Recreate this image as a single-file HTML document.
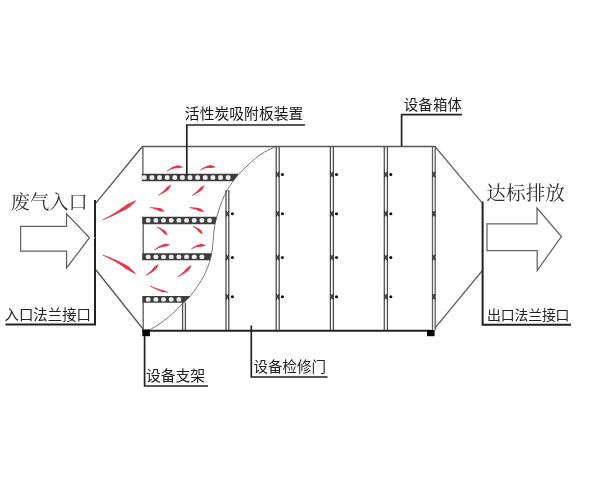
<!DOCTYPE html>
<html lang="zh"><head><meta charset="utf-8"><title>活性炭吸附装置</title>
<style>
html,body{margin:0;padding:0;background:#fff;font-family:"Liberation Sans",sans-serif;}
svg{display:block;position:absolute;left:0;top:0;}
text{font-family:"Liberation Sans","Noto Sans CJK SC",sans-serif;}
</style></head><body>
<svg width="600" height="488" viewBox="0 0 600 488">
<rect width="600" height="488" fill="#fff"/>
<defs><filter id="soft" x="0" y="0" width="600" height="488" filterUnits="userSpaceOnUse"><feGaussianBlur stdDeviation="0.5"/></filter></defs>
<g filter="url(#soft)">
<line x1="142" y1="146.5" x2="435.5" y2="146.5" stroke="#585858" stroke-width="1.5" stroke-linecap="butt"/>
<line x1="142" y1="330.7" x2="431" y2="330.7" stroke="#222" stroke-width="2.0" stroke-linecap="butt"/>
<line x1="142.4" y1="146.5" x2="95.8" y2="203.1" stroke="#555" stroke-width="1.3" stroke-linecap="butt"/>
<line x1="96" y1="270" x2="143.4" y2="329.5" stroke="#555" stroke-width="1.3" stroke-linecap="butt"/>
<line x1="435" y1="146.5" x2="481.7" y2="202.4" stroke="#666" stroke-width="1.3" stroke-linecap="butt"/>
<line x1="482" y1="271" x2="435" y2="328" stroke="#666" stroke-width="1.3" stroke-linecap="butt"/>
<path d="M95 200 L95 324.6 L5.5 324.6" fill="none" stroke="#222" stroke-width="2.0" stroke-linejoin="miter"/>
<path d="M93.6 236.2 L94.9 237.8 L93.6 239.4 Z" fill="#fff"/>
<path d="M482.6 201.5 L482.6 324.7 L571 324.7" fill="none" stroke="#222" stroke-width="2.0" stroke-linejoin="miter"/>
<line x1="142.9" y1="146.5" x2="142.9" y2="174" stroke="#666" stroke-width="1.4" stroke-linecap="butt"/>
<line x1="143.2" y1="217" x2="143.2" y2="260" stroke="#666" stroke-width="1.4" stroke-linecap="butt"/>
<line x1="143.2" y1="302" x2="143.2" y2="330" stroke="#666" stroke-width="1.4" stroke-linecap="butt"/>
<path d="M274.7 147 C273.02 147.83 267.82 150.08 264.6 152 C261.38 153.92 258.48 156.03 255.4 158.5 C252.32 160.97 248.88 164.2 246.1 166.8 C243.32 169.4 241 171.5 238.7 174.1 C236.4 176.7 234.28 179.63 232.3 182.4 C230.32 185.17 228.5 187.62 226.8 190.7 C225.1 193.78 223.48 197.52 222.1 200.9 C220.72 204.28 219.57 207.62 218.5 211 C217.43 214.38 216.45 218.03 215.7 221.2 C214.95 224.37 214.4 227 214 230 C213.6 233 213.68 235.32 213.3 239.2 C212.92 243.08 212.37 249.38 211.7 253.3 C211.03 257.22 210.48 259.17 209.3 262.7 C208.12 266.23 206.57 270.57 204.6 274.5 C202.63 278.43 199.87 282.75 197.5 286.3 C195.13 289.85 192.95 292.85 190.4 295.8 C187.85 298.75 185.15 301.07 182.2 304 C179.25 306.93 176.23 310.25 172.7 313.4 C169.17 316.55 164.92 320.13 161 322.9 C157.08 325.67 152.03 328.6 149.2 330 C146.37 331.4 144.87 331.08 144 331.3" fill="none" stroke="#777" stroke-width="1.0"/>
<path d="M141.8 173.8 L238.9 173.8 L233.2 181.2 L141.8 181.2 Z" fill="#3e3e3e"/>
<rect x="141.95" y="175.35" width="4.7" height="4.3" rx="1.5" fill="#efefef"/><rect x="149.57" y="175.35" width="4.7" height="4.3" rx="1.5" fill="#efefef"/><rect x="157.19" y="175.35" width="4.7" height="4.3" rx="1.5" fill="#efefef"/><rect x="164.81" y="175.35" width="4.7" height="4.3" rx="1.5" fill="#efefef"/><rect x="172.43" y="175.35" width="4.7" height="4.3" rx="1.5" fill="#efefef"/><rect x="180.05" y="175.35" width="4.7" height="4.3" rx="1.5" fill="#efefef"/><rect x="187.67" y="175.35" width="4.7" height="4.3" rx="1.5" fill="#efefef"/><rect x="195.29" y="175.35" width="4.7" height="4.3" rx="1.5" fill="#efefef"/><rect x="202.91" y="175.35" width="4.7" height="4.3" rx="1.5" fill="#efefef"/><rect x="210.53" y="175.35" width="4.7" height="4.3" rx="1.5" fill="#efefef"/><rect x="218.15" y="175.35" width="4.7" height="4.3" rx="1.5" fill="#efefef"/><rect x="225.77" y="175.35" width="4.7" height="4.3" rx="1.5" fill="#efefef"/>
<path d="M142.3 216.7 L216.9 216.7 L215 224.2 L142.3 224.2 Z" fill="#3e3e3e"/>
<rect x="145.85" y="218.3" width="4.7" height="4.3" rx="1.5" fill="#efefef"/><rect x="153.52" y="218.3" width="4.7" height="4.3" rx="1.5" fill="#efefef"/><rect x="161.19" y="218.3" width="4.7" height="4.3" rx="1.5" fill="#efefef"/><rect x="168.86" y="218.3" width="4.7" height="4.3" rx="1.5" fill="#efefef"/><rect x="176.53" y="218.3" width="4.7" height="4.3" rx="1.5" fill="#efefef"/><rect x="184.2" y="218.3" width="4.7" height="4.3" rx="1.5" fill="#efefef"/><rect x="191.87" y="218.3" width="4.7" height="4.3" rx="1.5" fill="#efefef"/><rect x="199.54" y="218.3" width="4.7" height="4.3" rx="1.5" fill="#efefef"/><rect x="207.21" y="218.3" width="4.7" height="4.3" rx="1.5" fill="#efefef"/>
<path d="M142.3 253.3 L211.7 253.3 L210 260.3 L142.3 260.3 Z" fill="#3e3e3e"/>
<rect x="145.85" y="254.65" width="4.7" height="4.3" rx="1.5" fill="#efefef"/><rect x="153.52" y="254.65" width="4.7" height="4.3" rx="1.5" fill="#efefef"/><rect x="161.19" y="254.65" width="4.7" height="4.3" rx="1.5" fill="#efefef"/><rect x="168.86" y="254.65" width="4.7" height="4.3" rx="1.5" fill="#efefef"/><rect x="176.53" y="254.65" width="4.7" height="4.3" rx="1.5" fill="#efefef"/><rect x="184.2" y="254.65" width="4.7" height="4.3" rx="1.5" fill="#efefef"/><rect x="191.87" y="254.65" width="4.7" height="4.3" rx="1.5" fill="#efefef"/><rect x="199.54" y="254.65" width="4.7" height="4.3" rx="1.5" fill="#efefef"/>
<path d="M142.3 296 L190.6 296 L184 302.7 L142.3 302.7 Z" fill="#3e3e3e"/>
<rect x="145.85" y="297.2" width="4.7" height="4.3" rx="1.5" fill="#efefef"/><rect x="153.52" y="297.2" width="4.7" height="4.3" rx="1.5" fill="#efefef"/><rect x="161.19" y="297.2" width="4.7" height="4.3" rx="1.5" fill="#efefef"/><rect x="168.86" y="297.2" width="4.7" height="4.3" rx="1.5" fill="#efefef"/><rect x="176.53" y="297.2" width="4.7" height="4.3" rx="1.5" fill="#efefef"/>
<line x1="182.6" y1="302.6" x2="182.6" y2="330" stroke="#505050" stroke-width="1.3" stroke-linecap="butt"/>
<line x1="185.4" y1="302.6" x2="185.4" y2="330" stroke="#505050" stroke-width="1.3" stroke-linecap="butt"/>
<line x1="226" y1="190" x2="226" y2="330" stroke="#505050" stroke-width="1.3" stroke-linecap="butt"/>
<line x1="228.8" y1="190" x2="228.8" y2="330" stroke="#505050" stroke-width="1.3" stroke-linecap="butt"/>
<path d="M226 210.9 L228.8 216.5 M228.8 210.9 L226 216.5" stroke="#222" stroke-width="1.1" fill="none"/>
<rect x="226" y="212.2" width="2.8" height="3" fill="#444"/>
<circle cx="232.4" cy="213.7" r="1.55" fill="#111"/>
<path d="M226 254.7 L228.8 260.3 M228.8 254.7 L226 260.3" stroke="#222" stroke-width="1.1" fill="none"/>
<rect x="226" y="256" width="2.8" height="3" fill="#444"/>
<circle cx="232.4" cy="257.5" r="1.55" fill="#111"/>
<path d="M226 293.9 L228.8 299.5 M228.8 293.9 L226 299.5" stroke="#222" stroke-width="1.1" fill="none"/>
<rect x="226" y="295.2" width="2.8" height="3" fill="#444"/>
<circle cx="232.4" cy="296.7" r="1.55" fill="#111"/>
<line x1="276.2" y1="146.5" x2="276.2" y2="330" stroke="#505050" stroke-width="1.3" stroke-linecap="butt"/>
<line x1="279.2" y1="146.5" x2="279.2" y2="330" stroke="#505050" stroke-width="1.3" stroke-linecap="butt"/>
<path d="M276.2 171.7 L279.2 177.3 M279.2 171.7 L276.2 177.3" stroke="#222" stroke-width="1.1" fill="none"/>
<rect x="276.2" y="173" width="3" height="3" fill="#444"/>
<circle cx="282.4" cy="174.5" r="1.55" fill="#111"/>
<path d="M276.2 210.9 L279.2 216.5 M279.2 210.9 L276.2 216.5" stroke="#222" stroke-width="1.1" fill="none"/>
<rect x="276.2" y="212.2" width="3" height="3" fill="#444"/>
<circle cx="282.4" cy="213.7" r="1.55" fill="#111"/>
<path d="M276.2 254.7 L279.2 260.3 M279.2 254.7 L276.2 260.3" stroke="#222" stroke-width="1.1" fill="none"/>
<rect x="276.2" y="256" width="3" height="3" fill="#444"/>
<circle cx="282.4" cy="257.5" r="1.55" fill="#111"/>
<path d="M276.2 293.9 L279.2 299.5 M279.2 293.9 L276.2 299.5" stroke="#222" stroke-width="1.1" fill="none"/>
<rect x="276.2" y="295.2" width="3" height="3" fill="#444"/>
<circle cx="282.4" cy="296.7" r="1.55" fill="#111"/>
<line x1="330.4" y1="146.5" x2="330.4" y2="330" stroke="#505050" stroke-width="1.3" stroke-linecap="butt"/>
<line x1="333.4" y1="146.5" x2="333.4" y2="330" stroke="#505050" stroke-width="1.3" stroke-linecap="butt"/>
<path d="M330.4 171.7 L333.4 177.3 M333.4 171.7 L330.4 177.3" stroke="#222" stroke-width="1.1" fill="none"/>
<rect x="330.4" y="173" width="3" height="3" fill="#444"/>
<circle cx="336.5" cy="174.5" r="1.55" fill="#111"/>
<path d="M330.4 210.9 L333.4 216.5 M333.4 210.9 L330.4 216.5" stroke="#222" stroke-width="1.1" fill="none"/>
<rect x="330.4" y="212.2" width="3" height="3" fill="#444"/>
<circle cx="336.5" cy="213.7" r="1.55" fill="#111"/>
<path d="M330.4 254.7 L333.4 260.3 M333.4 254.7 L330.4 260.3" stroke="#222" stroke-width="1.1" fill="none"/>
<rect x="330.4" y="256" width="3" height="3" fill="#444"/>
<circle cx="336.5" cy="257.5" r="1.55" fill="#111"/>
<path d="M330.4 293.9 L333.4 299.5 M333.4 293.9 L330.4 299.5" stroke="#222" stroke-width="1.1" fill="none"/>
<rect x="330.4" y="295.2" width="3" height="3" fill="#444"/>
<circle cx="336.5" cy="296.7" r="1.55" fill="#111"/>
<line x1="384.3" y1="146.5" x2="384.3" y2="330" stroke="#505050" stroke-width="1.3" stroke-linecap="butt"/>
<line x1="387.4" y1="146.5" x2="387.4" y2="330" stroke="#505050" stroke-width="1.3" stroke-linecap="butt"/>
<path d="M384.3 171.7 L387.4 177.3 M387.4 171.7 L384.3 177.3" stroke="#222" stroke-width="1.1" fill="none"/>
<rect x="384.3" y="173" width="3.1" height="3" fill="#444"/>
<circle cx="390.8" cy="174.5" r="1.55" fill="#111"/>
<path d="M384.3 210.9 L387.4 216.5 M387.4 210.9 L384.3 216.5" stroke="#222" stroke-width="1.1" fill="none"/>
<rect x="384.3" y="212.2" width="3.1" height="3" fill="#444"/>
<circle cx="390.8" cy="213.7" r="1.55" fill="#111"/>
<path d="M384.3 254.7 L387.4 260.3 M387.4 254.7 L384.3 260.3" stroke="#222" stroke-width="1.1" fill="none"/>
<rect x="384.3" y="256" width="3.1" height="3" fill="#444"/>
<circle cx="390.8" cy="257.5" r="1.55" fill="#111"/>
<path d="M384.3 293.9 L387.4 299.5 M387.4 293.9 L384.3 299.5" stroke="#222" stroke-width="1.1" fill="none"/>
<rect x="384.3" y="295.2" width="3.1" height="3" fill="#444"/>
<circle cx="390.8" cy="296.7" r="1.55" fill="#111"/>
<line x1="432.5" y1="146.5" x2="432.5" y2="330" stroke="#606060" stroke-width="1.3" stroke-linecap="butt"/>
<line x1="435.2" y1="146.5" x2="435.2" y2="330" stroke="#606060" stroke-width="1.3" stroke-linecap="butt"/>
<path d="M432.5 171.7 L435.2 177.3 M435.2 171.7 L432.5 177.3" stroke="#222" stroke-width="1.1" fill="none"/>
<rect x="432.5" y="173" width="2.7" height="3" fill="#444"/>
<path d="M432.5 210.9 L435.2 216.5 M435.2 210.9 L432.5 216.5" stroke="#222" stroke-width="1.1" fill="none"/>
<rect x="432.5" y="212.2" width="2.7" height="3" fill="#444"/>
<path d="M432.5 254.7 L435.2 260.3 M435.2 254.7 L432.5 260.3" stroke="#222" stroke-width="1.1" fill="none"/>
<rect x="432.5" y="256" width="2.7" height="3" fill="#444"/>
<path d="M432.5 293.9 L435.2 299.5 M435.2 293.9 L432.5 299.5" stroke="#222" stroke-width="1.1" fill="none"/>
<rect x="432.5" y="295.2" width="2.7" height="3" fill="#444"/>
<rect x="142.3" y="329.6" width="7.6" height="6.6" fill="#000"/>
<rect x="427" y="330" width="7.6" height="6.2" fill="#000"/>
<path d="M186.8 175.5 L186.8 125 L305 125" fill="none" stroke="#222" stroke-width="1.7" stroke-linejoin="miter"/>
<path d="M401.6 146 L401.6 114.6 L462 114.6" fill="none" stroke="#222" stroke-width="1.7" stroke-linejoin="miter"/>
<path d="M144.6 336 L144.6 386 L208 386" fill="none" stroke="#222" stroke-width="1.7" stroke-linejoin="miter"/>
<path d="M251.3 325.5 L251.3 377 L327.5 377" fill="none" stroke="#222" stroke-width="1.7" stroke-linejoin="miter"/>
<path d="M20.6 226.3 L66.6 226.3 L66.6 213.9 L89.5 237.7 L66.6 268 L66.6 251.2 L20.6 251.2 Z" fill="#fff" stroke="#646464" stroke-width="1.25" stroke-linejoin="miter"/>
<path d="M487 223.8 L537 223.8 L537 208 L561.4 236.5 L537.2 270.6 L537.2 250.6 L487 250.6 Z" fill="#fff" stroke="#646464" stroke-width="1.25" stroke-linejoin="miter"/>
<g opacity="0.88">
<path d="M102.67 220.36 L105.28 219.23 L107.89 218.09 L110.5 216.94 L113.09 215.76 L115.67 214.55 L118.24 213.31 L120.8 212.05 L123.34 210.75 L125.88 209.42 L128.37 208.01 L130.57 206.16 L132.72 204.24 L134.81 202.24 L136.7 200 L136.7 200 L133.97 201.07 L131.4 202.31 L128.85 203.57 L126.31 204.81 L124.01 206.44 L121.72 208.07 L119.4 209.66 L117.06 211.22 L114.68 212.74 L112.27 214.21 L109.84 215.64 L107.37 217.03 L104.87 218.37 L102.33 219.64Z" fill="#dc2038"/>
<path d="M102.36 255.37 L104.96 256.47 L107.51 257.65 L110.02 258.9 L112.48 260.22 L114.9 261.6 L117.28 263.04 L119.62 264.54 L121.92 266.09 L124.17 267.7 L126.41 269.33 L128.89 270.62 L131.36 271.95 L133.86 273.29 L136.5 274.5 L136.5 274.5 L134.7 272.2 L132.69 270.15 L130.59 268.19 L128.43 266.31 L125.97 264.87 L123.47 263.53 L120.94 262.24 L118.39 261.01 L115.81 259.83 L113.22 258.7 L110.61 257.62 L107.97 256.59 L105.31 255.59 L102.64 254.63Z" fill="#dc2038"/>
<path d="M167.26 171.8 L168.28 171.03 L169.33 170.37 L170.4 169.8 L171.48 169.33 L172.57 168.96 L173.66 168.67 L174.76 168.48 L175.86 168.37 L176.96 168.35 L178.07 168.37 L179.19 168.08 L180.38 167.84 L181.63 167.63 L183 167.3 L183 167.3 L181.8 166.51 L180.54 166 L179.24 165.62 L177.93 165.36 L176.64 165.58 L175.4 165.91 L174.19 166.32 L173.03 166.81 L171.9 167.37 L170.81 168 L169.75 168.7 L168.72 169.47 L167.72 170.31 L166.74 171.2Z" fill="#dc2038"/>
<path d="M200.54 170.62 L201.56 169.95 L202.59 169.39 L203.64 168.93 L204.69 168.56 L205.74 168.28 L206.79 168.08 L207.84 167.97 L208.88 167.94 L209.93 168 L210.97 168.09 L212.04 167.87 L213.18 167.7 L214.38 167.56 L215.7 167.3 L215.7 167.3 L214.62 166.45 L213.46 165.87 L212.25 165.42 L211.02 165.08 L209.79 165.21 L208.58 165.46 L207.41 165.78 L206.28 166.18 L205.17 166.65 L204.1 167.19 L203.06 167.79 L202.04 168.46 L201.04 169.2 L200.06 169.98Z" fill="#dc2038"/>
<path d="M158.49 195.65 L159.58 195.11 L160.66 194.56 L161.73 193.99 L162.79 193.4 L163.84 192.79 L164.87 192.15 L165.9 191.49 L166.91 190.8 L167.9 190.09 L168.86 189.32 L169.53 188.25 L170.13 187.15 L170.67 186 L171 184.7 L171 184.7 L169.8 185.26 L168.76 185.91 L167.74 186.55 L166.74 187.18 L166 188.05 L165.25 188.93 L164.46 189.78 L163.65 190.6 L162.81 191.4 L161.93 192.18 L161.03 192.92 L160.09 193.64 L159.12 194.32 L158.11 194.95Z" fill="#dc2038"/>
<path d="M192.49 195.65 L193.52 195.14 L194.54 194.63 L195.56 194.09 L196.56 193.54 L197.56 192.97 L198.54 192.38 L199.51 191.76 L200.48 191.11 L201.43 190.44 L202.34 189.72 L202.96 188.7 L203.52 187.64 L204.01 186.54 L204.3 185.3 L204.3 185.3 L203.14 185.8 L202.14 186.4 L201.18 187 L200.22 187.58 L199.52 188.4 L198.82 189.23 L198.09 190.04 L197.32 190.83 L196.53 191.59 L195.71 192.32 L194.86 193.03 L193.98 193.71 L193.06 194.35 L192.11 194.95Z" fill="#dc2038"/>
<path d="M149.67 208 L150.77 208.15 L151.85 208.36 L152.91 208.61 L153.95 208.9 L154.98 209.23 L156 209.6 L156.99 209.99 L157.97 210.43 L158.93 210.89 L159.89 211.35 L160.98 211.46 L162.1 211.57 L163.24 211.67 L164.5 211.6 L164.5 211.6 L163.75 210.57 L162.87 209.76 L161.94 209.03 L160.98 208.36 L159.86 208.09 L158.73 207.89 L157.61 207.73 L156.48 207.58 L155.35 207.47 L154.23 207.38 L153.1 207.31 L151.98 207.26 L150.85 207.23 L149.73 207.2Z" fill="#dc2038"/>
<path d="M189.47 208 L190.54 208.17 L191.6 208.39 L192.64 208.66 L193.66 208.97 L194.67 209.31 L195.66 209.69 L196.63 210.1 L197.59 210.55 L198.52 211.02 L199.46 211.5 L200.53 211.61 L201.63 211.74 L202.76 211.85 L204 211.8 L204 211.8 L203.28 210.76 L202.43 209.95 L201.54 209.21 L200.6 208.52 L199.5 208.24 L198.4 208.03 L197.29 207.85 L196.18 207.69 L195.07 207.56 L193.97 207.45 L192.86 207.36 L191.75 207.3 L190.64 207.25 L189.53 207.2Z" fill="#dc2038"/>
<path d="M156.35 227.17 L157.26 227.62 L158.12 228.12 L158.94 228.66 L159.73 229.23 L160.47 229.85 L161.18 230.49 L161.85 231.16 L162.48 231.87 L163.08 232.6 L163.66 233.33 L164.5 233.83 L165.36 234.36 L166.24 234.91 L167.3 235.4 L167.3 235.4 L167.15 234.23 L166.79 233.19 L166.34 232.19 L165.82 231.23 L164.99 230.57 L164.12 229.98 L163.24 229.42 L162.34 228.89 L161.43 228.41 L160.5 227.96 L159.56 227.54 L158.6 227.15 L157.63 226.78 L156.65 226.43Z" fill="#dc2038"/>
<path d="M192.85 226.77 L193.64 227.18 L194.4 227.65 L195.11 228.15 L195.8 228.68 L196.44 229.24 L197.05 229.83 L197.63 230.45 L198.17 231.09 L198.67 231.76 L199.17 232.42 L199.93 232.85 L200.7 233.31 L201.52 233.79 L202.5 234.2 L202.5 234.2 L202.44 233.12 L202.15 232.16 L201.79 231.24 L201.36 230.36 L200.62 229.76 L199.84 229.23 L199.04 228.72 L198.24 228.26 L197.42 227.82 L196.59 227.41 L195.75 227.04 L194.89 226.68 L194.03 226.35 L193.15 226.03Z" fill="#dc2038"/>
<path d="M154.75 250.31 L155.76 249.63 L156.81 249.02 L157.87 248.49 L158.94 248.03 L160.03 247.63 L161.13 247.31 L162.23 247.05 L163.35 246.85 L164.46 246.72 L165.58 246.62 L166.66 246.18 L167.79 245.78 L168.97 245.37 L170.2 244.8 L170.2 244.8 L168.94 244.23 L167.66 243.93 L166.38 243.74 L165.08 243.65 L163.86 244 L162.68 244.44 L161.53 244.93 L160.41 245.47 L159.32 246.06 L158.26 246.7 L157.23 247.38 L156.22 248.11 L155.23 248.88 L154.25 249.69Z" fill="#dc2038"/>
<path d="M191.62 249.23 L192.57 248.7 L193.53 248.25 L194.51 247.87 L195.49 247.55 L196.47 247.29 L197.46 247.09 L198.45 246.96 L199.44 246.88 L200.43 246.86 L201.42 246.86 L202.39 246.52 L203.41 246.2 L204.47 245.88 L205.6 245.4 L205.6 245.4 L204.53 244.74 L203.43 244.35 L202.3 244.06 L201.15 243.86 L200.05 244.1 L198.97 244.42 L197.92 244.79 L196.89 245.2 L195.89 245.66 L194.91 246.17 L193.96 246.71 L193.02 247.3 L192.1 247.92 L191.18 248.57Z" fill="#dc2038"/>
<path d="M146.01 275.94 L147.11 275.32 L148.2 274.7 L149.29 274.06 L150.36 273.4 L151.41 272.71 L152.46 272 L153.48 271.26 L154.5 270.49 L155.49 269.7 L156.45 268.85 L157.1 267.72 L157.69 266.56 L158.2 265.35 L158.5 264 L158.5 264 L157.3 264.65 L156.25 265.38 L155.24 266.1 L154.24 266.81 L153.5 267.75 L152.75 268.69 L151.98 269.61 L151.17 270.5 L150.32 271.37 L149.45 272.21 L148.54 273.02 L147.59 273.81 L146.61 274.56 L145.59 275.26Z" fill="#dc2038"/>
<path d="M177.79 277.15 L178.97 276.55 L180.14 275.94 L181.3 275.31 L182.45 274.66 L183.58 273.98 L184.7 273.28 L185.8 272.54 L186.89 271.78 L187.96 270.99 L188.99 270.14 L189.73 269 L190.4 267.81 L191 266.58 L191.4 265.2 L191.4 265.2 L190.13 265.84 L189.02 266.58 L187.94 267.3 L186.87 268.01 L186.05 268.96 L185.22 269.91 L184.36 270.84 L183.47 271.73 L182.54 272.6 L181.59 273.44 L180.6 274.25 L179.57 275.02 L178.51 275.76 L177.41 276.45Z" fill="#dc2038"/>
<path d="M150.1 286.14 L151.3 286.88 L152.52 287.59 L153.75 288.27 L154.99 288.92 L156.25 289.54 L157.52 290.13 L158.81 290.69 L160.11 291.21 L161.43 291.7 L162.77 292.14 L164.19 292.29 L165.62 292.37 L167.05 292.38 L168.5 292.2 L168.5 292.2 L167.18 291.59 L165.87 291.09 L164.58 290.59 L163.3 290.09 L161.98 289.8 L160.66 289.49 L159.35 289.13 L158.05 288.74 L156.77 288.3 L155.49 287.82 L154.22 287.3 L152.97 286.73 L151.73 286.12 L150.5 285.46Z" fill="#dc2038"/>
</g>
<text x="10.8" y="208.5" font-size="19.3" fill="#333" textLength="77" lengthAdjust="spacing" style="font-family:'Liberation Serif','Noto Serif CJK SC',serif;">废气入口</text>
<text x="486.3" y="199.5" font-size="19.6" fill="#333" textLength="78.6" lengthAdjust="spacing" style="font-family:'Liberation Serif','Noto Serif CJK SC',serif;">达标排放</text>
<text x="184.8" y="118.8" font-size="14.8" fill="#181818" textLength="118.6" lengthAdjust="spacing">活性炭吸附板装置</text>
<text x="403.8" y="109.6" font-size="14.5" fill="#222" textLength="58.2" lengthAdjust="spacing">设备箱体</text>
<text x="4.5" y="319.6" font-size="14.4" fill="#222" textLength="86.5" lengthAdjust="spacing">入口法兰接口</text>
<text x="487" y="320" font-size="13.9" fill="#222" textLength="82.5" lengthAdjust="spacing">出口法兰接口</text>
<text x="146" y="381" font-size="14.8" fill="#222" textLength="59" lengthAdjust="spacing">设备支架</text>
<text x="253.5" y="372.2" font-size="14.5" fill="#222" textLength="72.5" lengthAdjust="spacing">设备检修门</text>
</g>
</svg>
</body></html>
